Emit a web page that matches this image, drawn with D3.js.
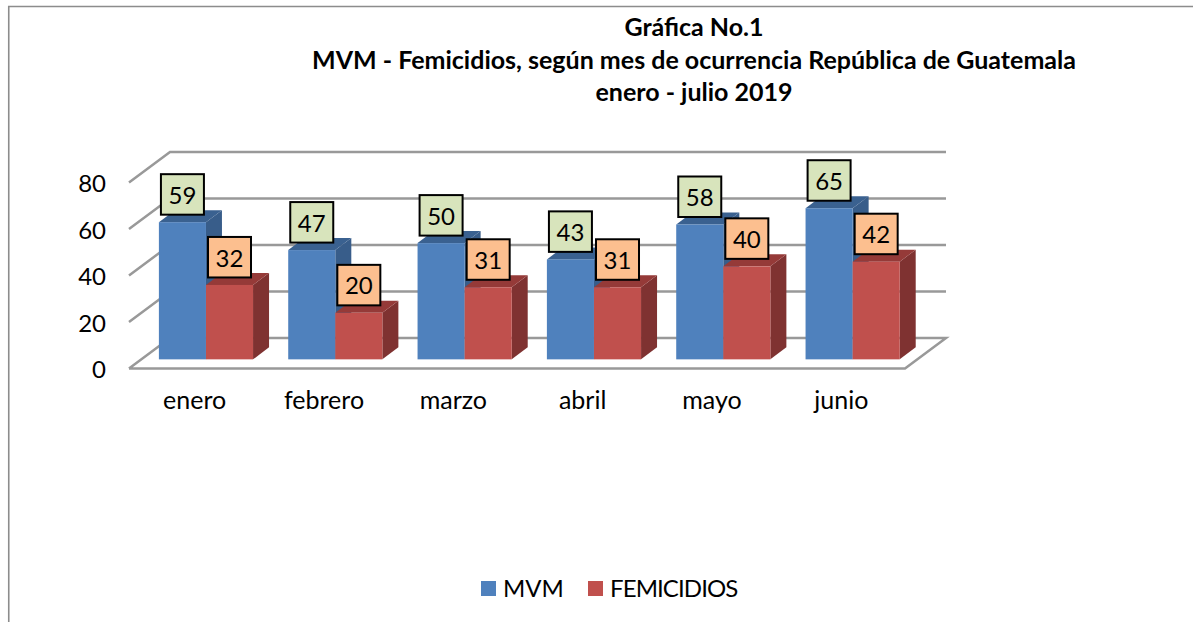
<!DOCTYPE html>
<html><head><meta charset="utf-8">
<script src="https://cdn.jsdelivr.net/npm/d3@7"></script>
<style>
html,body{margin:0;padding:0;background:#fff;overflow:hidden}
svg{display:block}
text{font-family:Lato,"Open Sans",sans-serif;fill:#000}
.domain{display:none}
</style></head><body>
<svg id="c" width="1193" height="622"></svg>
<script>
const months = ["enero","febrero","marzo","abril","mayo","junio"];
const seriesNames = ["MVM","FEMICIDIOS"];
const mvm = [59,47,50,43,58,65];
const femicidios = [32,20,31,31,40,42];
const yTicks = [0,20,40,60,80];
const titleLines = ["Gráfica No.1","MVM - Femicidios, según mes de ocurrencia República de Guatemala","enero - julio 2019"];

const colors = {
  MVM:{front:"#4F81BD",side:"#385D8A",top:"#3A6190",label:"#D8E4BC"},
  FEMICIDIOS:{front:"#C0504D",side:"#7F3231",top:"#953A38",label:"#FCBF8F"}
};
const svg = d3.select("#c");

// chart frame (only left and top edges visible)
svg.append("path").attr("d","M8.75,622V6.5H1193").attr("fill","none").attr("stroke","#8c8c8c").attr("stroke-width",1.6);

// scales
const x0 = d3.scaleBand().domain(months).range([129,905]).paddingInner(0.272).paddingOuter(0.136);
const x1 = d3.scaleBand().domain(seriesNames).range([0,x0.bandwidth()]);
const y = d3.scaleLinear().domain([0,80]).range([368.5,182.5]);
const wallDx = 41, wallDy = -30.5;
const barShift = 0.3;           // bars sit 30% into the floor depth
const barDepth = {dx:16,dy:-12};

// walls / gridlines
const grid = svg.append("g").attr("fill","none").attr("stroke","#999").attr("stroke-width",2.5);
yTicks.forEach(t=>{
  if(t===0){
    grid.append("path").attr("d",d3.line()([
      [x0.range()[0],y(0)],[x0.range()[1],y(0)],[x0.range()[1]+wallDx,y(0)+wallDy],[x0.range()[0]+wallDx,y(0)+wallDy],[x0.range()[0],y(0)]
    ]));
  } else {
    grid.append("path").attr("d",d3.line()([
      [x0.range()[0],y(t)],[x0.range()[0]+wallDx,y(t)+wallDy],[x0.range()[1]+wallDx,y(t)+wallDy]
    ]));
  }
});

// y axis labels
const axY = svg.append("g").attr("transform","translate(106,1)").call(d3.axisLeft(y).tickValues(yTicks).tickSize(0).tickPadding(0));
axY.selectAll("text").attr("font-size",24).attr("dy","0.35em").attr("x",0).attr("text-anchor","end");

// x axis labels
const axX = svg.append("g").attr("transform","translate(1,389)").call(d3.axisBottom(x0).tickSize(0).tickPadding(0));
axX.selectAll("text").attr("font-size",25).attr("dy","0.8em");

// bars
const rows = months.map((m,i)=>({m,MVM:mvm[i],FEMICIDIOS:femicidios[i]}));
const sx = wallDx*barShift, sy = wallDy*barShift;
const labels = [];
rows.forEach(r=>{
  seriesNames.forEach(s=>{
    const c = colors[s];
    const xl = x0(r.m)+x1(s)+sx, w = x1.bandwidth(), yb = y(0)+sy, yt = y(r[s])+sy;
    const d = barDepth;
    const g = svg.append("g");
    g.append("path").attr("fill",c.side).attr("d",d3.line()([[xl+w,yb],[xl+w+d.dx,yb+d.dy],[xl+w+d.dx,yt+d.dy],[xl+w,yt]]));
    g.append("path").attr("fill",c.top).attr("d",d3.line()([[xl,yt],[xl+d.dx,yt+d.dy],[xl+w+d.dx,yt+d.dy],[xl+w,yt]]));
    g.append("rect").attr("x",xl).attr("y",yt).attr("width",w).attr("height",yb-yt).attr("fill",c.front);
    labels.push({cx:xl+w/2,cy:yt-28,v:r[s],fill:c.label});
  });
});

// data labels
const lab = svg.append("g");
labels.forEach(l=>{
  lab.append("rect").attr("x",l.cx-21.5).attr("y",l.cy-20).attr("width",43).attr("height",40.5)
    .attr("fill",l.fill).attr("stroke","#000").attr("stroke-width",2);
  lab.append("text").attr("x",l.cx).attr("y",l.cy+1).attr("dy","0.36em").attr("text-anchor","middle").attr("font-size",24).text(l.v);
});

// title
svg.append("g").selectAll("text").data(titleLines).join("text")
  .attr("x",694).attr("y",(d,i)=>[36,69,101][i]).attr("text-anchor","middle")
  .attr("font-size",25).attr("font-weight",700).text(d=>d);

// legend
const legendX = {MVM:{sq:481,tx:503,ls:0},FEMICIDIOS:{sq:588,tx:610,ls:-0.9}};
seriesNames.forEach(s=>{
  svg.append("rect").attr("x",legendX[s].sq).attr("y",581).attr("width",15).attr("height",15).attr("fill",colors[s].front);
  svg.append("text").attr("x",legendX[s].tx).attr("y",597).attr("font-size",24).attr("letter-spacing",legendX[s].ls).text(s);
});
</script>
</body></html>
